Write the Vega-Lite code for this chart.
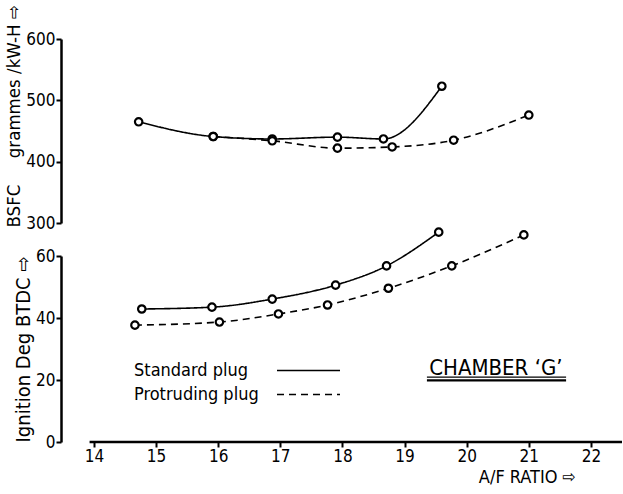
{
  "$schema": "https://vega.github.io/schema/vega-lite/v6.json",
  "background": "white",
  "padding": {"left": 4, "top": 4, "right": 0, "bottom": 4},
  "bounds": "flush",
  "spacing": 33,
  "config": {
    "view": {"stroke": null},
    "font": "DejaVu Sans Condensed, DejaVu Sans, sans-serif",
    "axis": {
      "grid": false,
      "domainColor": "black",
      "domainWidth": 2.5,
      "tickColor": "black",
      "tickWidth": 2,
      "tickSize": 5,
      "labelColor": "black",
      "titleColor": "black",
      "labelFont": "DejaVu Sans Condensed, DejaVu Sans, sans-serif",
      "titleFont": "DejaVu Sans Condensed, DejaVu Sans, sans-serif",
      "labelFontSize": 17,
      "titleFontSize": 18,
      "titleFontWeight": "normal",
      "labelPadding": 1
    },
    "legend": {
      "labelFont": "DejaVu Sans Condensed, DejaVu Sans, sans-serif",
      "labelFontSize": 18,
      "labelColor": "black"
    }
  },
  "datasets": {
    "bsfc": [
      {"plug": "Standard plug", "afr": 14.72, "value": 465},
      {"plug": "Standard plug", "afr": 15.92, "value": 441},
      {"plug": "Standard plug", "afr": 16.87, "value": 437},
      {"plug": "Standard plug", "afr": 17.92, "value": 440},
      {"plug": "Standard plug", "afr": 18.66, "value": 437},
      {"plug": "Standard plug", "afr": 19.6, "value": 523},
      {"plug": "Protruding plug", "afr": 15.92, "value": 441},
      {"plug": "Protruding plug", "afr": 16.87, "value": 434},
      {"plug": "Protruding plug", "afr": 17.92, "value": 422},
      {"plug": "Protruding plug", "afr": 18.8, "value": 424},
      {"plug": "Protruding plug", "afr": 19.79, "value": 435},
      {"plug": "Protruding plug", "afr": 21.0, "value": 476}
    ],
    "ignition": [
      {"plug": "Standard plug", "afr": 14.77, "value": 42.9},
      {"plug": "Standard plug", "afr": 15.9, "value": 43.5},
      {"plug": "Standard plug", "afr": 16.87, "value": 46.1},
      {"plug": "Standard plug", "afr": 17.89, "value": 50.6},
      {"plug": "Standard plug", "afr": 18.71, "value": 56.8},
      {"plug": "Standard plug", "afr": 19.55, "value": 67.7},
      {"plug": "Protruding plug", "afr": 14.66, "value": 37.7},
      {"plug": "Protruding plug", "afr": 16.02, "value": 38.7},
      {"plug": "Protruding plug", "afr": 16.97, "value": 41.3},
      {"plug": "Protruding plug", "afr": 17.76, "value": 44.2},
      {"plug": "Protruding plug", "afr": 18.74, "value": 49.6},
      {"plug": "Protruding plug", "afr": 19.76, "value": 56.8},
      {"plug": "Protruding plug", "afr": 20.92, "value": 66.8}
    ]
  },
  "resolve": {"legend": {"strokeDash": "independent"}},
  "vconcat": [
    {
      "width": 561,
      "height": 184,
      "data": {"name": "bsfc"},
      "encoding": {
        "x": {"field": "afr", "type": "quantitative", "scale": {"domain": [13.47, 22.5], "nice": false, "zero": false}, "axis": null},
        "y": {"field": "value", "type": "quantitative", "scale": {"domain": [300, 600], "nice": false, "zero": false},
          "axis": {"values": [300, 400, 500, 600], "title": "BSFC\u00a0\u00a0\u00a0\u00a0\u00a0grammes /kW-H \u21e8", "titleAnchor": "start", "titlePadding": 2, "titleFontSize": 18.5, "titleY": 188}}
      },
      "layer": [
        {
          "mark": {"type": "line", "interpolate": "monotone", "color": "black", "strokeWidth": 1.6},
          "encoding": {
            "strokeDash": {"field": "plug", "type": "nominal", "scale": {"domain": ["Standard plug", "Protruding plug"], "range": [[1, 0], [7, 5]]}, "legend": null}
          }
        },
        {
          "mark": {"type": "point", "shape": "circle", "filled": true, "fill": "white", "stroke": "black", "strokeWidth": 2.2, "size": 55, "opacity": 1}
        }
      ]
    },
    {
      "width": 561,
      "height": 186,
      "layer": [
        {
          "data": {"name": "ignition"},
          "mark": {"type": "line", "interpolate": "monotone", "color": "black", "strokeWidth": 1.6},
          "encoding": {
            "x": {"field": "afr", "type": "quantitative", "scale": {"domain": [13.47, 22.5], "nice": false, "zero": false},
              "axis": {"values": [14, 15, 16, 17, 18, 19, 20, 21, 22], "format": "d", "domain": false, "title": "A/F RATIO \u21e8", "titleX": 466, "titleY": 35, "titleBaseline": "middle", "titleAlign": "center"}},
            "y": {"field": "value", "type": "quantitative", "scale": {"domain": [0, 60], "nice": false, "zero": false},
              "axis": {"values": [0, 20, 40, 60], "title": "Ignition Deg BTDC \u21e8", "titleAnchor": "start", "titlePadding": 2, "titleFontSize": 20}},
            "strokeDash": {"field": "plug", "type": "nominal", "scale": {"domain": ["Standard plug", "Protruding plug"], "range": [[1, 0], [7, 5]]},
              "legend": {"orient": "none", "legendX": 236, "legendY": 103, "title": null, "padding": 0, "symbolType": "M-3,0H3", "symbolSize": 441, "symbolStrokeWidth": 1.5, "symbolStrokeColor": "black", "symbolFillColor": "transparent", "labelAlign": "left", "labelOffset": -186, "rowPadding": 3}}
          }
        },
        {
          "data": {"name": "ignition"},
          "mark": {"type": "point", "shape": "circle", "filled": true, "fill": "white", "stroke": "black", "strokeWidth": 2.2, "size": 55, "opacity": 1},
          "encoding": {
            "x": {"field": "afr", "type": "quantitative"},
            "y": {"field": "value", "type": "quantitative"}
          }
        },
        {
          "data": {"values": [{"label": "CHAMBER \u2018G\u2019"}]},
          "mark": {"type": "text", "fontSize": 22, "color": "black", "align": "center", "baseline": "middle"},
          "encoding": {
            "x": {"datum": 20.47, "type": "quantitative"},
            "y": {"datum": 23.8, "type": "quantitative"},
            "text": {"field": "label"}
          }
        },
        {
          "data": {"values": [{"label": "CHAMBER \u2018G\u2019"}]},
          "mark": {"type": "rule", "color": "black", "strokeWidth": 1.2},
          "encoding": {
            "x": {"datum": 19.36, "type": "quantitative"},
            "x2": {"datum": 21.6},
            "y": {"datum": 20.9, "type": "quantitative"}
          }
        },
        {
          "data": {"values": [{"label": "CHAMBER \u2018G\u2019"}]},
          "mark": {"type": "rule", "color": "black", "strokeWidth": 2.2},
          "encoding": {
            "x": {"datum": 19.36, "type": "quantitative"},
            "x2": {"datum": 21.6},
            "y": {"datum": 19.9, "type": "quantitative"}
          }
        },
        {
          "data": {"values": [{"label": "axis"}]},
          "mark": {"type": "rule", "color": "black", "strokeWidth": 2.5},
          "encoding": {
            "x": {"datum": 13.93, "type": "quantitative"},
            "x2": {"datum": 22.5},
            "y": {"datum": 0, "type": "quantitative"}
          }
        }
      ]
    }
  ]
}
